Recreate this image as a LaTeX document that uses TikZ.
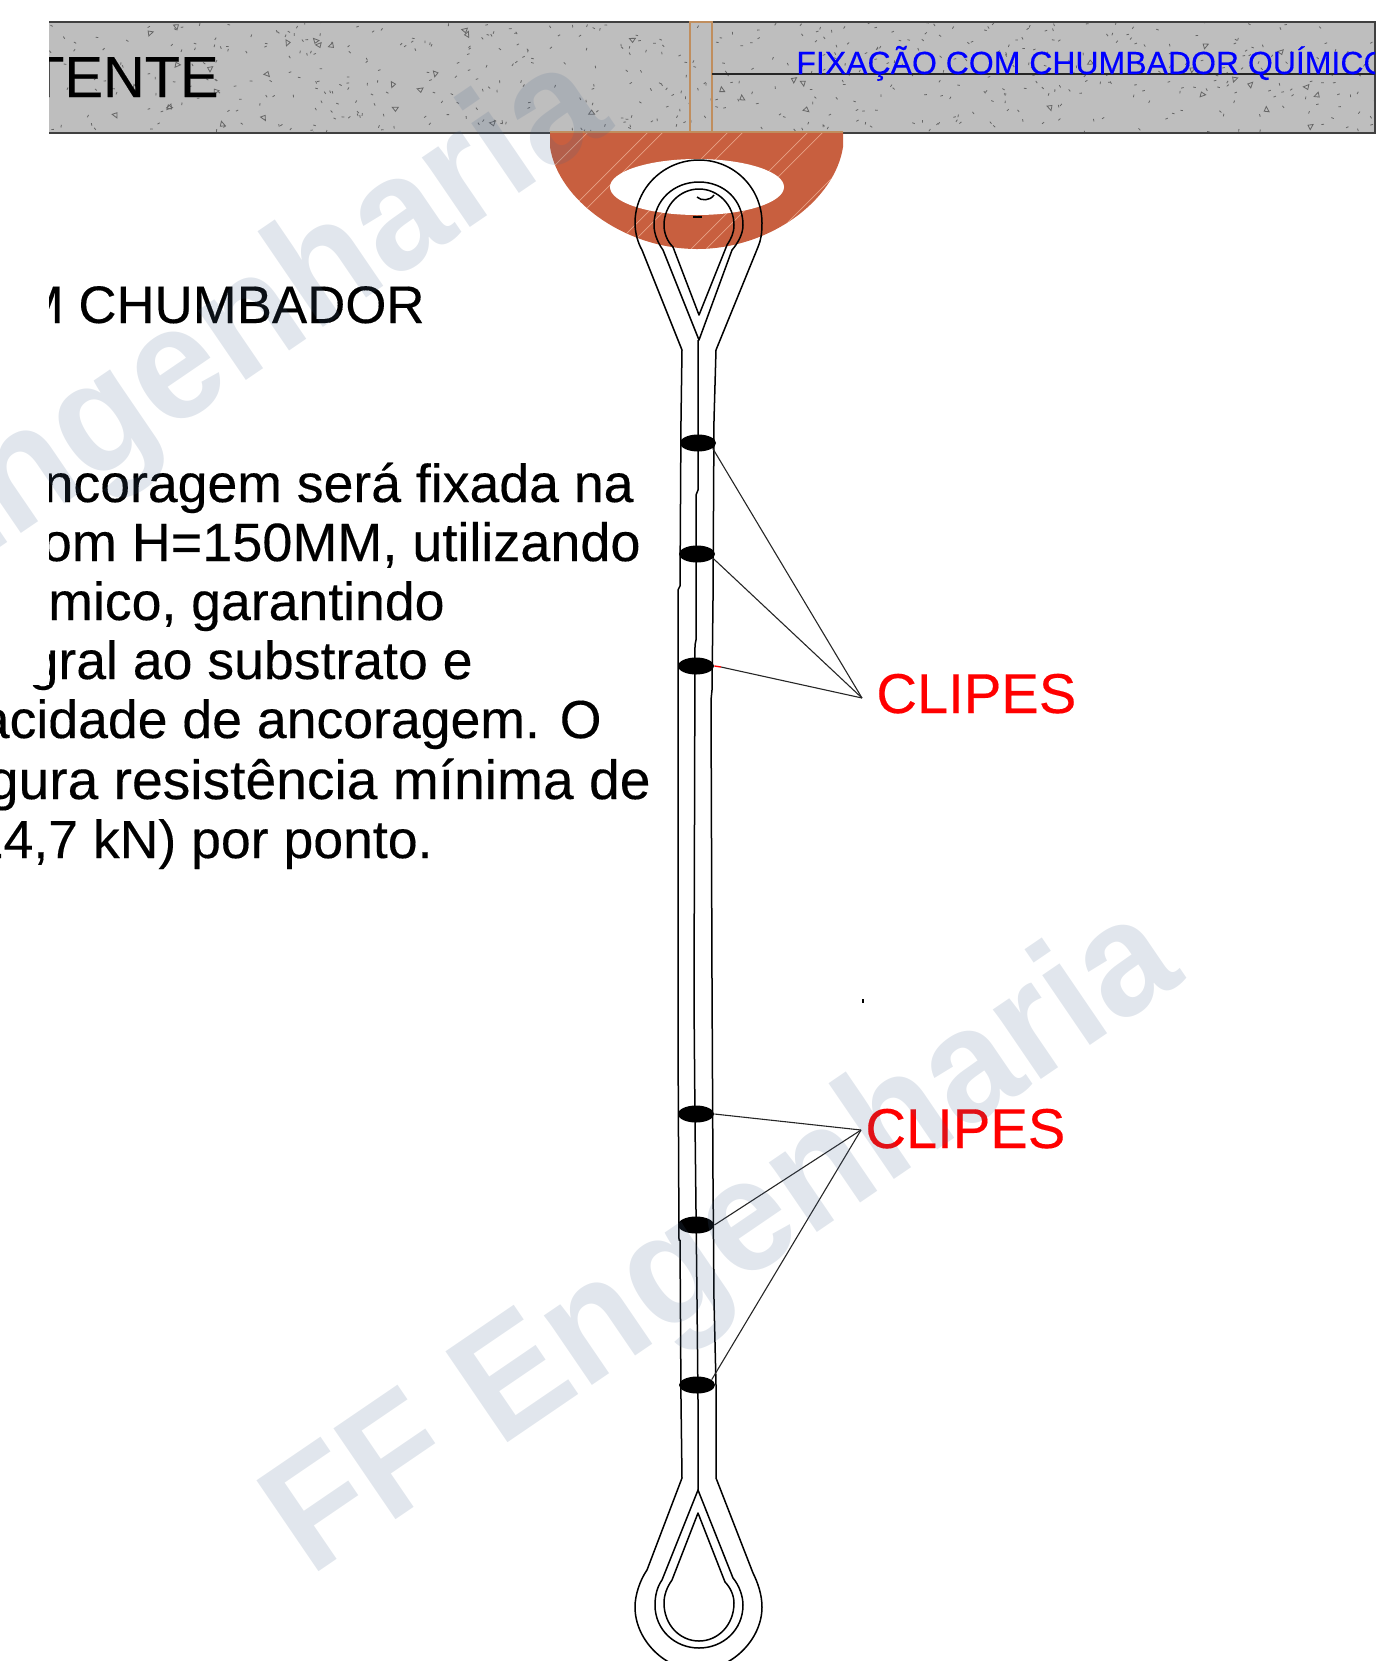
\documentclass[tikz,border=0pt]{standalone}
\usepackage{fontspec}
\setmainfont[FakeBold=0.25]{Liberation Sans}
\newfontfamily\plainsans{Liberation Sans}
\usetikzlibrary{shapes.geometric}
\definecolor{slabgray}{HTML}{BEBEBE}
\definecolor{speckgray}{HTML}{666666}
\definecolor{bronze}{HTML}{C08E5E}
\definecolor{rust}{HTML}{C85F3F}
\definecolor{hatchc}{HTML}{E8A286}
\definecolor{wmark}{RGB}{70,100,140}
\tikzset{
  cable/.style={black,line width=0.75pt,line join=round},
  clipbody/.style={ellipse,fill=black,draw=none,minimum width=18pt,minimum height=8.5pt,inner sep=0pt},
  leader/.style={black!85,line width=0.55pt},
  speck/.style={speckgray,line width=0.4pt},
  hatchline/.style={hatchc,line width=0.35pt},
  bodytext/.style={anchor=base east,inner sep=0pt,font=\fontsize{26.8}{26.8}\selectfont,black},
  redlabel/.style={anchor=base west,inner sep=0pt,font=\fontsize{28.1}{28.1}\selectfont,red},
  watermark/.style={anchor=base west,inner sep=0pt,rotate=34.3,xscale=0.955,text=wmark,text opacity=0.16,font=\plainsans\fontsize{80}{80}\selectfont\bfseries},
}
\begin{document}
\begin{tikzpicture}[x=0.5pt,y=-0.5pt]
\useasboundingbox (0,0) rectangle (1376,1661);
\clip (0,0) rectangle (1376,1661);
% slab
\fill[slabgray] (49,22) rectangle (1375,133);
\begin{scope}
\clip (49,22) rectangle (1375,133);
\pgfmathsetseed{4217}
\foreach \i in {1,...,560}{
  \pgfmathsetmacro\xx{49+rnd*1326}
  \pgfmathsetmacro\yy{22+rnd*111}
  \pgfmathsetmacro\aa{rnd*360}
  \draw[speck] (\xx,\yy) -- ++(\aa:2.6);
}
\foreach \i in {1,...,42}{
  \pgfmathsetmacro\xx{49+rnd*1326}
  \pgfmathsetmacro\yy{26+rnd*103}
  \pgfmathsetmacro\aa{rnd*360}
  \draw[speck] (\xx,\yy) -- ++(\aa:6) -- ++(\aa+125:5) -- cycle;
}
\end{scope}
\draw[black!75,line width=0.75pt] (49,22) -- (1375,22) -- (1375,133) -- (49,133);
% anchor bolt
\draw[bronze,line width=0.6pt] (690,133) -- (690,22) -- (712,22) -- (712,133);
% bracket
\path[fill=rust] (550,132) -- (843,132) -- (843,147) .. controls (835,200) and (770,249) .. (697,249) .. controls (625,249) and (558,200) .. (550,147) -- cycle;
\begin{scope}
\clip (550,132) -- (843,132) -- (843,147) .. controls (835,200) and (770,249) .. (697,249) .. controls (625,249) and (558,200) .. (550,147) -- cycle;
\foreach \d in {470,530,545,610,625,690,705,760,775,830,845,900,915,985,1000}{
  \draw[hatchline] (\d,250) -- ++(118,-118);
}
\end{scope}
\draw[bronze,line width=0.6pt] (550,132) -- (843,132);
\fill[white] (697,187) ellipse [x radius=87,y radius=28];
% upper eye
\draw[cable] (682,350) -- (642,250) .. controls (638,243) and (635,233) .. (635,223) .. controls (635,188) and (664,160) .. (699,160) .. controls (734,160) and (762,188) .. (762,223) .. controls (762,233) and (761,240) .. (758,247) -- (716,350);
\draw[cable] (699,340) -- (663,250) .. controls (658,243) and (654,234) .. (654,225) .. controls (654,200) and (674,182) .. (699,182) .. controls (724,182) and (743,200) .. (743,225) .. controls (743,234) and (738,243) .. (732,250) -- cycle;
\draw[cable] (699,315) -- (673,247) .. controls (667,241) and (664,233) .. (664,225) .. controls (664,205) and (680,189) .. (699,189) .. controls (718,189) and (734,205) .. (734,225) .. controls (734,233) and (731,239) .. (727,245) -- cycle;
\draw[cable] (697,197) .. controls (701,201) and (710,201) .. (714,195);
\draw[black,line width=0.9pt] (693,217) -- (702,217);
% lower eye
\draw[cable] (682,1478) -- (647,1570) .. controls (640,1580) and (635,1595) .. (635,1607) .. controls (635,1640) and (665,1670) .. (698,1670) .. controls (731,1670) and (762,1640) .. (762,1607) .. controls (762,1595) and (758,1583) .. (753,1573) -- (716,1478);
\draw[cable] (698,1490) -- (662,1580) .. controls (657,1587) and (655,1596) .. (655,1605) .. controls (655,1630) and (675,1648) .. (699,1648) .. controls (723,1648) and (743,1630) .. (743,1605) .. controls (743,1596) and (739,1585) .. (733,1578) -- cycle;
\draw[cable] (698,1513) -- (672,1580) .. controls (667,1587) and (664,1595) .. (664,1603) .. controls (664,1625) and (680,1641) .. (699,1641) .. controls (718,1641) and (734,1625) .. (734,1603) .. controls (734,1595) and (730,1587) .. (725,1582) -- cycle;
% cable shafts
\draw[cable] (682,350) -- (681,420) -- (680,586) -- (678,590) -- (678,1036) -- (679,1240) -- (680,1240) -- (681,1400) -- (682,1478);
\draw[cable] (698,340) -- (698,490) -- (696,495) -- (696,640) -- (695,645) -- (694,1000) -- (695,1120) -- (697,1300) -- (698,1400) -- (698,1490);
\draw[cable] (716,350) -- (714,420) -- (713,600) -- (712,690) -- (711,700) -- (712,980) -- (713,1180) -- (714,1300) -- (716,1385) -- (716,1478);
% clips
\node[clipbody] (c1) at (698,443) {};
\node[clipbody] (c2) at (697,554) {};
\node[clipbody] (c3) at (696,666) {};
\node[clipbody] (c4) at (696,1114) {};
\node[clipbody] (c5) at (696,1225) {};
\node[clipbody] (c6) at (697,1385) {};
\coordinate (apexA) at (862,698);
\coordinate (apexB) at (861,1130);
\coordinate (redtip) at (721,667);
\draw[leader] (c1.-20) -- (apexA);
\draw[leader] (c2.-15) -- (apexA);
\draw[red,line width=0.7pt] (c3.east) -- (redtip);
\draw[leader] (redtip) -- (apexA);
\draw[leader] (c4.east) -- (apexB);
\draw[leader] (c5.east) -- (apexB);
\draw[leader] (c6.20) -- (apexB);
\fill[black] (862.2,999) rectangle (864,1003);
% texts, clipped as in the drawing
\begin{scope}
\clip (49,0) -- (1375,0) -- (1375,1661) -- (0,1661) -- (0,685) -- (49,685) -- cycle;
\node[anchor=base east,inner sep=0pt,font=\fontsize{28.9}{28.9}\selectfont,black] (tente) at (219,97) {TENTE};
\node[bodytext,font=\fontsize{26.4}{26.4}\selectfont] (chumb) at (425,323) {M CHUMBADOR};
\coordinate (bolt) at (712,74);
\coordinate (slabend) at (1375,74);
\draw[black!85,line width=0.55pt] (bolt) -- (slabend);
\node[anchor=base west,inner sep=0pt,font=\fontsize{16}{16}\selectfont,blue] (fix) at (796,74) {FIXAÇÃO COM CHUMBADOR QUÍMICO};
\node[bodytext] (l1) at (634,502) {ancoragem será fixada na};
\node[bodytext,font=\fontsize{27}{27}\selectfont] (l2) at (641,561) {com H=150MM, utilizando};
\node[bodytext] (l3) at (445,620) {químico, garantindo};
\node[bodytext] (l4) at (473,679) {gral ao substrato e};
\node[bodytext] (l5) at (602,738) {capacidade de ancoragem. O};
\node[bodytext,font=\fontsize{27.6}{27.6}\selectfont] (l6) at (651,799) {segura resistência mínima de};
\node[bodytext] (l7) at (433,858) {14,7 kN) por ponto.};
\end{scope}
\node[redlabel] (clipesA) at (876,713) {CLIPES};
\node[redlabel] (clipesB) at (865,1148) {CLIPES};
% watermarks
\node[watermark] (wmA) at (-261,726) {FF Engenharia};
\node[watermark] (wmB) at (310,1578) {FF Engenharia};
\end{tikzpicture}
\end{document}
